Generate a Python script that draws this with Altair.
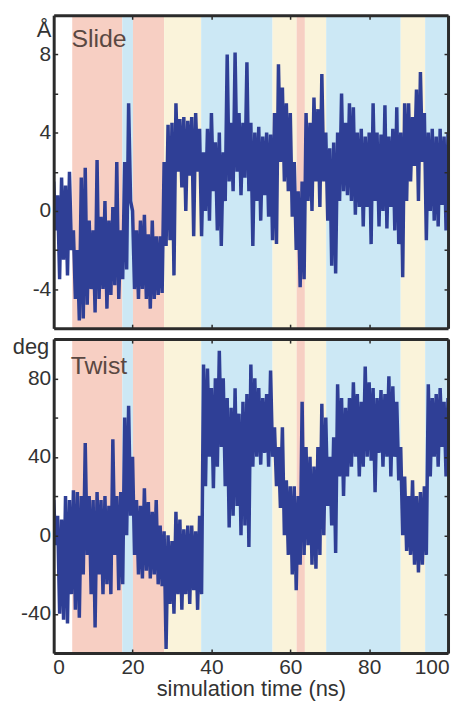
import altair as alt
import pandas as pd

# ---------------- data ----------------
time_ns = list(range(0, 101))

slide_hi = [1.5, 0.8, 1.7, 1.3, 2.0, -1.0, -2.0, 1.7, 2.2, -0.5,
            -1.0, 2.6, -0.3, 0.5, -0.5, 0.2, 2.5, -1.0, 2.5, 5.5,
            0.0, -1.0, -0.5, -0.2, -1.2, -0.5, -1.3, -1.3, 2.5, 4.4,
            4.5, 5.5, 4.7, 4.8, 4.6, 4.8, 5.0, 4.2, 3.0, 4.2,
            5.0, 3.5, 4.0, 3.0, 8.0, 4.5, 8.1, 5.0, 4.5, 7.6,
            4.5, 4.0, 4.3, 3.8, 4.0, 3.9, 5.0, 7.5, 6.3, 5.5,
            5.0, 2.5, 1.0, 1.5, 5.0, 4.5, 5.8, 5.2, 7.0, 4.0,
            3.2, 3.5, 4.0, 6.0, 4.5, 5.5, 5.3, 4.0, 4.2, 3.8,
            4.0, 5.5, 4.0, 3.9, 5.4, 3.8, 4.2, 5.3, 4.0, 5.5,
            5.5, 4.8, 6.2, 7.1, 5.0, 4.0, 4.2, 3.8, 4.2, 3.8,
            4.0]
slide_lo = [-1.0, -3.5, -2.5, -3.3, -2.0, -4.5, -5.6, -5.5, -4.8, -4.0,
            -5.2, -4.5, -4.0, -5.0, -4.3, -3.8, -4.5, -3.5, -3.0, 0.5,
            -4.0, -4.5, -4.0, -4.5, -5.0, -4.5, -4.3, -4.2, -1.8, -1.5,
            -3.3, 2.0, 1.2, 0.0, 1.8, -1.3, 2.0, -1.3, 0.0, -0.5,
            1.0, -1.0, -1.8, 0.5, 1.5, 1.0, 2.0, 0.8, 1.7, 1.0,
            -1.8, 0.5, -0.5, 0.8, -0.3, -1.5, -1.7, 2.5, 1.5, 1.0,
            -0.3, -2.0, -3.9, -3.5, 0.5, 0.0, 1.5, 0.2, 1.5, -0.5,
            -2.8, -3.2, 0.5, 1.0, 0.8, 0.5, -0.2, 0.2, -0.8, 0.2,
            -1.7, 0.5, -0.8, 0.0, -0.9, 0.2, -1.0, -1.7, -3.4, 0.5,
            1.5, 2.3, 0.5, 2.5, -1.5, 0.0, -0.5, -0.8, 0.3, -1.0,
            0.0]

twist_hi = [18, 10, 8, 20, 18, 23, 22, 20, 47, 20,
            18, 22, 18, 20, 15, 49, 20, 22, 60, 66,
            40, 18, 15, 24, 17, 12, 18, 5, 2, 0,
            -3, 12, 8, 3, 5, 5, 2, 10, 87, 85,
            75, 80, 94, 80, 70, 65, 75, 62, 68, 72,
            87, 80, 75, 70, 72, 84, 55, 45, 55, 28,
            25, 25, 20, 68, 45, 40, 35, 45, 67, 60,
            40, 50, 77, 70, 65, 70, 78, 72, 68, 86,
            78, 75, 70, 74, 72, 81, 76, 68, 45, 30,
            20, 28, 20, 22, 25, 77, 70, 72, 75, 68,
            70]
twist_lo = [-5, -40, -43, -45, -30, -38, -42, -20, -10, -30,
            -47, -20, -30, -25, -30, -10, -28, -25, 0, 10,
            -10, -20, -22, -18, -22, -20, -25, -26, -58, -35,
            -40, -30, -38, -30, -35, -28, -38, -30, 25, 40,
            24, 35, 45, 25, 4, 10, 15, 0, 5, -6,
            35, 40, 36, 42, 35, 40, 25, 14, 0, -10,
            -20, -28, -15, -10, -5, -15, -17, -10, 0, 15,
            5, -9, 30, 20, 30, 35, 40, 30, 35, 40,
            38, 22, 42, 35, 40, 30, 40, 28, 0, -8,
            -10, -15, -19, -15, -10, 30, 40, 35, 45, 30,
            50]

band_start = [4.7, 17.4, 20.1, 28.0, 37.4, 55.5, 61.6, 63.7, 69.1, 88.0, 94.2]
band_end = [17.4, 20.1, 28.0, 37.4, 55.5, 61.6, 63.7, 69.1, 88.0, 94.2, 100.0]
band_state = ["A", "B", "A", "C", "B", "C", "A", "C", "B", "C", "B"]
state_names = ["A", "B", "C"]
state_colors = ["#f7cfc3", "#cce8f5", "#faf3da"]

x_ticks = [0, 20, 40, 60, 80, 100]
slide_ticks = [-4, -2, 0, 2, 4, 6, 8]
slide_labels = [-4, 0, 4, 8]
twist_ticks = [-40, -20, 0, 20, 40, 60, 80]
twist_labels = [-40, 0, 40, 80]

# ---------------- tables ----------------
def trace(hi, lo):
    t, v = [], []
    for k, h, l in zip(time_ns, hi, lo):
        t.append(k)
        v.append(h)
        if k < time_ns[-1]:
            t.append(k + 0.5)
            v.append(l)
    return pd.DataFrame({"t": t, "v": v})

band_df = pd.DataFrame({"start": band_start, "end": band_end, "state": band_state})

W = 397
FONT = "Liberation Sans"
INK = "#333333"
FRAME = "#2b2b2b"
LINE = "#2f3f96"


def panel(df, dom, ticks, labels, unit, unit_x, unit_y, name, name_t, name_v, H, show_x):
    xs = alt.Scale(domain=[0, 100], nice=False, zero=False)
    ys = alt.Scale(domain=dom, nice=False, zero=False)

    bands = alt.Chart(band_df).mark_rect().encode(
        x=alt.X("start:Q", scale=xs, axis=None),
        x2="end:Q",
        color=alt.Color("state:N",
                        scale=alt.Scale(domain=state_names, range=state_colors),
                        legend=None),
    )

    lab_expr = ("indexof([" + ",".join(str(v) for v in labels) +
                "], datum.value) >= 0 ? '' + datum.value : ''")

    if show_x:
        x_axis = alt.Axis(values=x_ticks, ticks=False, domain=False, grid=False,
                          labelFontSize=21, labelPadding=4, labelFlush=True,
                          labelFlushOffset=1,
                          labelColor=INK, labelFont=FONT,
                          labelExpr="'' + datum.value",
                          title="simulation time (ns)", titleFont=FONT,
                          titleFontSize=22, titleFontWeight="normal",
                          titleColor=INK, titlePadding=1)
    else:
        x_axis = None

    line = alt.Chart(df).mark_line(color=LINE, strokeWidth=3.5, strokeJoin="bevel",
                                   clip=True).encode(
        x=alt.X("t:Q", scale=xs, axis=x_axis),
        y=alt.Y("v:Q", scale=ys,
                axis=alt.Axis(values=ticks, labelExpr=lab_expr, ticks=False,
                              domain=False, grid=False, labelFontSize=21,
                              labelPadding=3, labelColor=INK, labelFont=FONT,
                              title=unit, titleAngle=0, titleAlign="right",
                              titleBaseline="alphabetic", titleX=unit_x,
                              titleY=unit_y, titleFont=FONT, titleFontSize=22,
                              titleFontWeight="normal", titleColor=INK)),
    )

    inward = {"expr": "-4"}
    tick_style = dict(labels=False, ticks=True, tickSize=inward, tickWidth=1.5,
                      tickColor=FRAME, domain=True, domainColor=FRAME,
                      domainWidth=3, grid=False, title=None, zindex=1)
    ticks_a = alt.Chart(df).mark_point(opacity=0).encode(
        x=alt.X("t:Q", scale=xs,
                axis=alt.Axis(orient="bottom", values=x_ticks, **tick_style)),
        y=alt.Y("v:Q", scale=ys,
                axis=alt.Axis(orient="left", values=ticks, **tick_style)),
    )
    ticks_b = alt.Chart(df).mark_point(opacity=0).encode(
        x=alt.X("t:Q", scale=xs,
                axis=alt.Axis(orient="top", values=x_ticks, **tick_style)),
        y=alt.Y("v:Q", scale=ys,
                axis=alt.Axis(orient="right", values=ticks, **tick_style)),
    )

    name_df = pd.DataFrame({"t": [name_t], "v": [name_v], "label": [name]})
    txt = alt.Chart(name_df).mark_text(
        align="left", baseline="alphabetic", fontSize=25, font=FONT,
        color="#5a4842").encode(
        x=alt.X("t:Q", scale=xs, axis=None),
        y=alt.Y("v:Q", scale=ys, axis=None),
        text="label:N",
    )

    return alt.layer(bands, line, ticks_a, ticks_b, txt).resolve_axis(
        x="independent", y="independent").properties(width=W, height=H)


top = panel(trace(slide_hi, slide_lo), [-6, 10], slide_ticks, slide_labels,
            "Å", -3, 21, "Slide", 4.5, 8.4, 315, False)
bottom = panel(trace(twist_hi, twist_lo), [-60, 100], twist_ticks, twist_labels,
               "deg", -5, 14, "Twist", 4.3, 82, 316, True)

chart = alt.vconcat(top, bottom, spacing=4).properties(
    padding={"left": 3, "top": 3, "right": 0, "bottom": 0}
).configure_view(strokeWidth=0).configure(background="white")

chart.save("out.html", embed_options={"renderer": "svg", "actions": False})
